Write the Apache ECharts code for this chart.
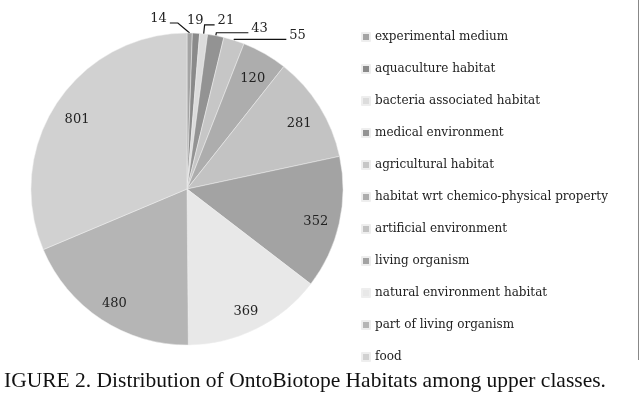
<!DOCTYPE html>
<html><head><meta charset="utf-8">
<script src="https://cdn.jsdelivr.net/npm/echarts@6/dist/echarts.min.js"></script>
<style>html,body{margin:0;padding:0;background:#fff}#c{width:640px;height:394px}</style>
</head><body><div id="c"></div>
<script>
var categories = ["experimental medium","aquaculture habitat","bacteria associated habitat","medical environment","agricultural habitat","habitat wrt chemico-physical property","artificial environment","living organism","natural environment habitat","part of living organism","food"];
var values = [14,19,21,43,55,120,281,352,369,480,801];
var colors = ["#a4a4a4","#8a8a8a","#dcdcdc","#939393","#c6c6c6","#adadad","#c3c3c3","#a3a3a3","#e8e8e8","#b5b5b5","#d1d1d1"];
var captionText = "IGURE 2. Distribution of OntoBiotope Habitats among upper classes.";
var smallLimit = 60;
// label-line styling per small slice (lengths in px)
var lineStyles = {
  0:{length:10, length2:8, show:true},
  1:{length:6, length2:0, show:false},
  2:{length:9, length2:10, show:true},
  3:{length:3, length2:32, show:true},
  4:{length:1, length2:52, show:true}
};

var chart = echarts.init(document.getElementById('c'), null, {renderer:'canvas'});
var base = categories.map(function(n,i){return {name:n, value:values[i], itemStyle:{color:colors[i]}};});
var labelData = categories.map(function(n,i){
  var small = values[i] < smallLimit;
  return {name:n, value:values[i], label:{show: !small}};
});
var outerData = categories.map(function(n,i){
  var small = values[i] < smallLimit;
  var ls = lineStyles[i] || {length:8,length2:10,show:false};
  return {name:n, value:values[i], label:{show: small},
    labelLine:{show: small && ls.show, length:ls.length, length2:ls.length2}};
});
var font = "DejaVu Serif";
var clear = 'rgba(0,0,0,0)';
function outerLayout(p){
  var pts = p.labelLinePoints;
  if (!pts) return {dy:-3};
  var p0 = pts[0], p1 = pts[1], p2 = pts[2];
  if (p.dataIndex === 0) {
    var q1 = [p1[0]-12, p1[1]];
    var q2 = [q1[0]-8, q1[1]];
    return {x:q2[0]-3, y:q2[1]-4, align:'right', verticalAlign:'middle', labelLinePoints:[p0,q1,q2]};
  }
  if (p.dataIndex === 1) {
    return {x:p1[0]-1, y:p1[1], align:'center', verticalAlign:'bottom'};
  }
  return {dy:-4};
}
chart.setOption({
  animation:false,
  color: colors,
  title:{text:captionText, left:-1, top:365, textStyle:{fontFamily:"Liberation Serif", fontSize:21.5, fontWeight:'normal', color:'#111'}},
  legend:{orient:'vertical', left:356, top:24, itemWidth:8, itemHeight:8, itemGap:16, icon:'rect',
    data:categories,
    textStyle:{fontFamily:font, fontSize:12, color:'#222', lineHeight:16}},
  graphic:[{type:'line', shape:{x1:638.5,y1:0,x2:638.5,y2:360}, style:{stroke:'#888', lineWidth:1}}],
  series:[
    {type:'pie', name:'main', center:[187,189], radius:[0,156], startAngle:90, clockwise:true,
     data:base, label:{show:false}, labelLine:{show:false},
     itemStyle:{borderColor:'#eeeeee', borderWidth:0.5}, emphasis:{disabled:true}},
    {type:'pie', name:'labels', center:[187,189], radius:[102,156], startAngle:90, clockwise:true, silent:true,
     data:labelData, itemStyle:{color:clear}, labelLine:{show:false},
     labelLayout:{dy:4},
     label:{position:'inside', formatter:'{c}', fontFamily:font, fontSize:13, color:'#222'}, emphasis:{disabled:true}},
    {type:'pie', name:'outer', center:[187,189], radius:[0,156], startAngle:90, clockwise:true, silent:true,
     avoidLabelOverlap:false,
     data:outerData, itemStyle:{color:clear},
     label:{position:'outside', formatter:'{c}', fontFamily:font, fontSize:13, color:'#222', distanceToLabelLine:3},
     labelLine:{lineStyle:{color:'#111', width:1.2}},
     labelLayout:outerLayout, emphasis:{disabled:true}}
  ]
});
</script></body></html>
